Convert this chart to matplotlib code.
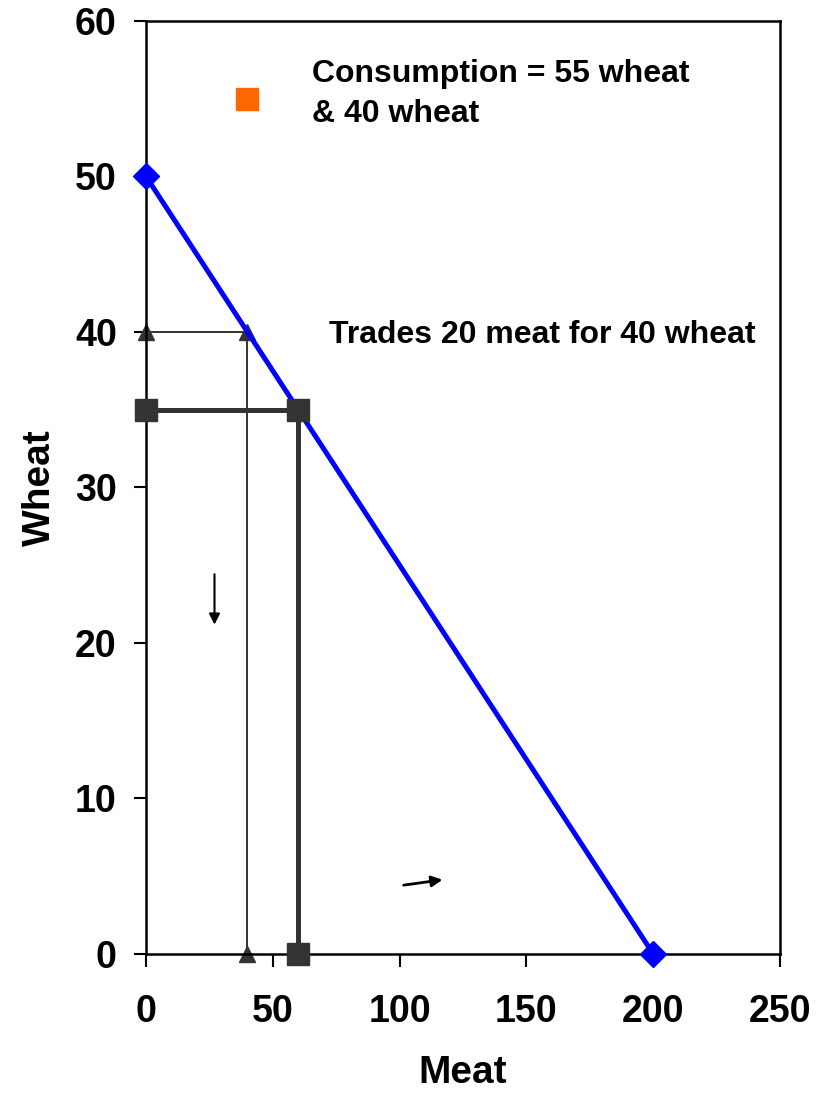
import matplotlib
matplotlib.use("Agg")
import matplotlib.pyplot as plt

plt.rcParams['font.family'] = ['Liberation Sans', 'DejaVu Sans']
plt.rcParams['font.weight'] = 'bold'

# PPF line
ppf_meat = [0, 200]
ppf_wheat = [50, 0]
# production point lines
prod_meat = [0, 60, 60]
prod_wheat = [35, 35, 0]
# thin line (consumption without trade)
thin_meat = [0, 40, 40]
thin_wheat = [40, 40, 0]
# consumption point
cons_meat = [40]
cons_wheat = [55]
# arrows (start, end)
arrow_down = ((27, 24.6), (27, 21.0))
arrow_right = ((100.5, 4.4), (118, 4.8))

xticks = [0, 50, 100, 150, 200, 250]
yticks = [0, 10, 20, 30, 40, 50, 60]

fig = plt.figure(figsize=(8.34, 10.94), dpi=100)
ax = fig.add_axes([0.1751, 0.128, 0.7602, 0.8528])

ax.plot(ppf_meat, ppf_wheat, color='#0000FF', lw=3.6, marker='D', ms=13,
        mec='#0000FF', zorder=3, clip_on=False)
ax.plot(thin_meat, thin_wheat, color='#333333', lw=1.4, marker='^', ms=11,
        zorder=2, clip_on=False)
ax.plot(prod_meat, prod_wheat, color='#333333', lw=3.6, marker='s', ms=16,
        zorder=4, clip_on=False)
ax.plot(cons_meat, cons_wheat, linestyle='none', marker='s', ms=16,
        color='#FF6600', mec='#FF6600', zorder=4)

ax.annotate('', xy=arrow_down[1], xytext=arrow_down[0],
            arrowprops=dict(arrowstyle='-|>', color='black', lw=1.5,
                            mutation_scale=16))
ax.annotate('', xy=arrow_right[1], xytext=arrow_right[0],
            arrowprops=dict(arrowstyle='-|>', color='black', lw=2,
                            mutation_scale=16))

ax.text(65.5, 55.3, 'Consumption = 55 wheat\n& 40 wheat', fontsize=23,
        fontweight='bold', ha='left', va='center', linespacing=1.45)
ax.text(72, 39.8, 'Trades 20 meat for 40 wheat', fontsize=23,
        fontweight='bold', ha='left', va='center')

ax.set_xlim(0, 250)
ax.set_ylim(0, 60)
ax.set_xticks(xticks)
ax.set_yticks(yticks)
ax.tick_params(axis='both', direction='out', length=9, width=1.5,
               labelsize=27)
ax.tick_params(axis='x', pad=20)
ax.tick_params(axis='y', pad=12)
for lab in ax.get_xticklabels() + ax.get_yticklabels():
    lab.set_fontweight('bold')
for s in ax.spines.values():
    s.set_linewidth(1.8)
    s.set_color('black')

ax.set_xlabel('Meat', fontsize=28, fontweight='bold', labelpad=18)
ax.set_ylabel('Wheat', fontsize=28, fontweight='bold', labelpad=12)

fig.savefig('out.png', dpi=100)
